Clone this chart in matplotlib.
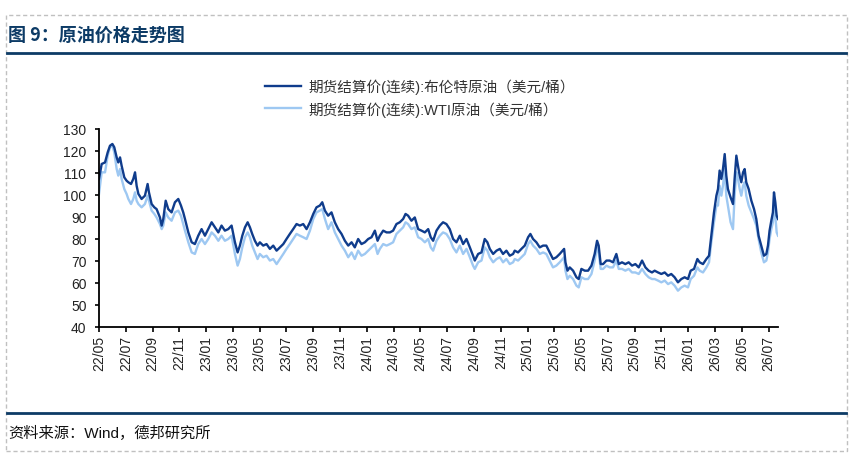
import matplotlib
matplotlib.use("Agg")
import matplotlib.pyplot as plt
from matplotlib.lines import Line2D
from matplotlib.patches import Rectangle

plt.rcParams['font.family'] = ['Liberation Sans', 'Noto Sans CJK SC', 'DejaVu Sans']

# months since 2022-05 in five chunks
month_1 = [0, 0.2, 0.45, 0.65, 0.82, 1.0, 1.14, 1.32, 1.44, 1.57, 1.69, 1.89, 2.06, 2.19, 2.39, 2.56,
           2.69, 2.81, 2.94, 3.18, 3.43, 3.63, 3.73, 3.93, 4.13, 4.3, 4.55, 4.68, 4.8, 4.98, 5.17, 5.42,
           5.67, 5.92, 6.12, 6.29, 6.42, 6.67, 6.92, 7.16, 7.41, 7.66, 7.91, 8.16, 8.41, 8.66, 8.91,
           9.15, 9.4, 9.65, 9.9]
brent_1 = [107.3, 114.1, 114.8, 119.4, 122.4, 123.2, 121.7, 117.1, 114.8, 117.1, 113.3, 108.0, 106.5,
           105.8, 105.0, 107.3, 110.3, 104.2, 100.5, 98.2, 99.7, 105.0, 101.2, 95.9, 94.4, 93.6, 89.8,
           86.1, 89.1, 97.4, 93.6, 92.1, 96.7, 98.2, 95.2, 92.1, 89.1, 83.0, 78.5, 77.7, 81.5, 84.5,
           81.5, 84.5, 87.6, 85.3, 83.0, 86.1, 83.8, 84.5, 86.1]
wti_1 = [100.5, 110.3, 110.3, 117.9, 121.7, 122.4, 119.4, 111.8, 108.8, 111.8, 107.3, 102.7, 100.5,
         98.2, 95.9, 98.2, 101.2, 97.4, 95.9, 94.4, 95.9, 99.7, 97.4, 92.9, 91.4, 89.8, 86.8, 84.5,
         86.1, 92.1, 89.8, 88.3, 92.1, 92.9, 90.6, 86.8, 83.8, 78.5, 73.9, 73.2, 77.7, 80.0, 77.7,
         80.0, 83.0, 81.5, 79.2, 81.5, 79.2, 80.0, 81.5]

month_2 = [10.15, 10.35, 10.52, 10.7, 10.9, 11.1, 11.27, 11.44, 11.64, 11.84, 12.01, 12.26, 12.51,
           12.76, 13.01, 13.26, 13.51, 13.76, 14.0, 14.25, 14.5, 14.75, 15.0, 15.25, 15.5, 15.75,
           16.0, 16.24, 16.49, 16.67, 16.87, 17.11, 17.36, 17.61, 17.86, 18.11, 18.36, 18.61, 18.86,
           19.1, 19.35, 19.6, 19.85, 20.1, 20.35]
brent_2 = [78.5, 73.9, 77.0, 81.5, 85.3, 87.6, 85.3, 82.3, 79.2, 77.0, 78.5, 77.0, 77.7, 75.5, 77.0,
           74.7, 76.2, 77.7, 80.0, 82.3, 84.5, 86.8, 86.1, 86.8, 84.5, 87.6, 91.4, 94.4, 95.2, 96.7,
           92.9, 90.6, 92.1, 87.6, 84.5, 82.3, 79.2, 77.0, 78.5, 76.2, 80.0, 77.7, 78.5, 80.0, 80.8]
wti_2 = [73.2, 67.9, 70.9, 76.2, 80.8, 83.0, 80.8, 77.0, 73.9, 70.9, 73.2, 71.7, 72.4, 70.2, 70.9,
         68.6, 70.9, 73.2, 75.5, 77.7, 80.0, 82.3, 81.5, 80.8, 80.0, 83.8, 89.1, 92.1, 92.9, 93.6,
         89.1, 84.5, 87.6, 83.0, 80.0, 77.0, 74.7, 71.7, 73.9, 70.9, 74.7, 72.4, 73.2, 74.7, 76.2]

month_3 = [20.6, 20.8, 20.97, 21.22, 21.47, 21.72, 21.96, 22.21, 22.46, 22.71, 22.89, 23.08, 23.33,
           23.58, 23.83, 24.08, 24.33, 24.58, 24.77, 24.95, 25.2, 25.45, 25.69, 25.94, 26.19, 26.44,
           26.69, 26.94, 27.19, 27.44, 27.69, 27.93, 28.06, 28.31, 28.56, 28.8, 29.0, 29.18, 29.43,
           29.68, 29.93, 30.17, 30.42, 30.67, 30.92]
brent_3 = [83.8, 79.2, 81.5, 83.8, 83.0, 83.0, 83.8, 86.8, 87.6, 89.1, 91.4, 90.6, 88.3, 89.8, 84.5,
           83.8, 83.0, 84.5, 80.8, 79.2, 83.8, 86.1, 87.6, 86.8, 84.5, 80.0, 78.5, 81.5, 77.7, 80.0,
           76.2, 72.4, 70.2, 73.2, 73.9, 80.0, 78.5, 75.5, 73.2, 74.7, 75.5, 73.2, 74.7, 72.4, 73.2]
wti_3 = [77.7, 73.2, 75.5, 77.7, 77.0, 77.7, 78.5, 82.3, 83.8, 85.3, 87.6, 86.8, 84.5, 85.3, 80.8,
         80.0, 78.5, 80.0, 76.2, 74.7, 79.2, 81.5, 83.0, 82.3, 80.0, 76.2, 73.9, 77.0, 73.2, 75.5,
         71.7, 67.9, 66.4, 69.4, 70.2, 76.2, 74.7, 71.7, 69.4, 70.9, 71.7, 69.4, 70.9, 68.6, 69.4]

month_4 = [31.04, 31.29, 31.54, 31.79, 32.04, 32.21, 32.41, 32.66, 32.91, 33.16, 33.4, 33.65, 33.9,
           34.15, 34.4, 34.73, 34.83, 34.98, 35.15, 35.4, 35.65, 35.82, 36.02, 36.27, 36.52, 36.77,
           37.01, 37.19, 37.31, 37.46, 37.64, 37.89, 38.13, 38.38, 38.63, 38.81, 39.05, 39.3, 39.55,
           39.8, 40.05, 40.3, 40.55, 40.8, 41.04, 41.29]
brent_4 = [74.7, 73.9, 75.5, 77.0, 80.8, 82.3, 80.0, 78.5, 76.2, 77.0, 77.0, 73.9, 70.9, 71.7, 73.2,
           75.5, 69.4, 65.6, 67.1, 65.6, 62.6, 61.8, 66.4, 65.6, 65.6, 67.9, 73.2, 79.2, 77.0, 68.6,
           68.6, 70.2, 70.2, 69.4, 73.2, 68.6, 69.4, 68.6, 69.4, 67.9, 68.6, 67.1, 70.2, 67.1, 65.6, 64.8]
wti_4 = [70.9, 70.2, 71.7, 73.2, 77.7, 79.2, 77.0, 75.5, 73.2, 73.9, 73.2, 70.2, 67.1, 67.9, 69.4,
         71.7, 65.6, 61.8, 63.3, 61.8, 58.8, 58.0, 62.6, 61.8, 61.8, 64.1, 70.2, 76.2, 73.9, 66.4,
         66.4, 67.9, 67.1, 67.1, 70.2, 66.4, 66.4, 65.6, 66.4, 64.8, 64.8, 64.1, 66.4, 64.1, 62.6, 61.8]

month_5 = [41.49, 41.74, 41.99, 42.24, 42.49, 42.73, 42.98, 43.23, 43.48, 43.73, 43.98, 44.18, 44.43,
           44.68, 44.85, 45.1, 45.35, 45.55, 45.72, 45.92, 46.1, 46.22, 46.34, 46.47, 46.59, 46.72,
           46.84, 46.96, 47.16, 47.34, 47.46, 47.59, 47.71, 47.84, 47.96, 48.09, 48.21, 48.33, 48.51,
           48.71, 48.91, 49.08, 49.25, 49.45, 49.65, 49.83, 49.95, 50.07, 50.2, 50.32, 50.4, 50.5,
           50.6, 50.7]
brent_5 = [65.6, 64.8, 64.1, 64.8, 63.3, 64.1, 62.6, 60.3, 61.8, 62.6, 61.8, 65.6, 66.4, 70.9, 69.4,
           68.6, 70.9, 72.4, 81.5, 92.1, 99.7, 102.7, 111.1, 107.3, 111.8, 118.6, 108.8, 102.7, 98.9,
           95.9, 107.3, 117.9, 113.3, 108.8, 105.8, 110.3, 111.8, 105.8, 102.7, 97.4, 93.6, 89.1,
           81.5, 77.0, 72.4, 73.2, 77.0, 83.8, 88.3, 92.1, 101.2, 96.7, 90.6, 89.1]
wti_5 = [61.8, 61.1, 60.3, 61.1, 59.5, 60.3, 58.8, 56.5, 58.0, 58.8, 58.0, 61.8, 63.3, 67.1, 65.6,
         64.8, 67.1, 69.4, 78.5, 87.6, 95.2, 95.2, 104.2, 99.7, 104.2, 111.8, 99.7, 95.2, 87.6, 84.5,
         99.7, 110.3, 107.3, 102.7, 99.7, 104.2, 105.8, 99.7, 95.2, 92.1, 89.1, 86.1, 80.0, 73.9,
         69.4, 70.2, 73.9, 80.0, 84.5, 87.6, 95.2, 90.6, 83.0, 81.5]

months = month_1 + month_2 + month_3 + month_4 + month_5
brent = brent_1 + brent_2 + brent_3 + brent_4 + brent_5
wti = wti_1 + wti_2 + wti_3 + wti_4 + wti_5

tick_pos = list(range(0, 51, 2))
tick_labels = ["22/05", "22/07", "22/09", "22/11", "23/01", "23/03", "23/05", "23/07", "23/09",
               "23/11", "24/01", "24/03", "24/05", "24/07", "24/09", "24/11", "25/01", "25/03",
               "25/05", "25/07", "25/09", "25/11", "26/01", "26/03", "26/05", "26/07"]

label_brent = "期货结算价(连续):布伦特原油（美元/桶）"
label_wti = "期货结算价(连续):WTI原油（美元/桶）"

navy = "#0d3b66"
c_brent = "#0f3c8c"
c_wti = "#9ec8f2"

W, H = 854, 460
fig = plt.figure(figsize=(W / 100, H / 100), dpi=100)
ax = fig.add_axes([99 / W, 1 - 328 / H, (778 - 99) / W, (328 - 130) / H])

l_wti, = ax.plot(months, wti, color=c_wti, lw=1.7, label=label_wti)
l_brent, = ax.plot(months, brent, color=c_brent, lw=1.7, label=label_brent)

ax.set_xlim(0, 50.7)
ax.set_ylim(40, 130)
ax.set_yticks(range(40, 131, 10))
ax.set_xticks(tick_pos)
ax.set_xticklabels(tick_labels, rotation=90, fontsize=10, color="#222222")
ax.tick_params(axis="y", labelsize=10, labelcolor="#222222", length=3, width=1.2, pad=6)
ax.tick_params(axis="x", length=3.5, width=1.2, pad=2)
for s in ["top", "right"]:
    ax.spines[s].set_visible(False)
for s in ["left", "bottom"]:
    ax.spines[s].set_linewidth(1.3)

leg = fig.legend(handles=[l_brent, l_wti], loc="upper left",
                 bbox_to_anchor=(265 / W, 1 - 80 / H), frameon=False, fontsize=10.5,
                 handlelength=2.5, handletextpad=0.45, labelspacing=0.45,
                 borderpad=0, borderaxespad=0)
for t in leg.get_texts():
    t.set_color("#333333")

# page decorations
fig.add_artist(Rectangle((6 / W, 1 - 452 / H), 841 / W, 436 / H, transform=fig.transFigure,
                         fill=False, ec="#c0c0c0", lw=1, ls=(0, (3, 2))))
fig.add_artist(Line2D([7 / W, 846 / W], [1 - 53.5 / H] * 2, transform=fig.transFigure,
                      color=navy, lw=2))
fig.add_artist(Line2D([7 / W, 846 / W], [1 - 413.5 / H] * 2, transform=fig.transFigure,
                      color=navy, lw=2))
fig.text(8 / W, 1 - 35 / H, "图 9：原油价格走势图", fontsize=13, fontweight="bold",
         color=navy, va="center", ha="left", family=["Noto Sans CJK SC", "DejaVu Sans"])
fig.text(8 / W, 1 - 433 / H, "资料来源：Wind，德邦研究所", fontsize=11, color="#111111",
         va="center", ha="left")

fig.savefig("out.png", dpi=100)
